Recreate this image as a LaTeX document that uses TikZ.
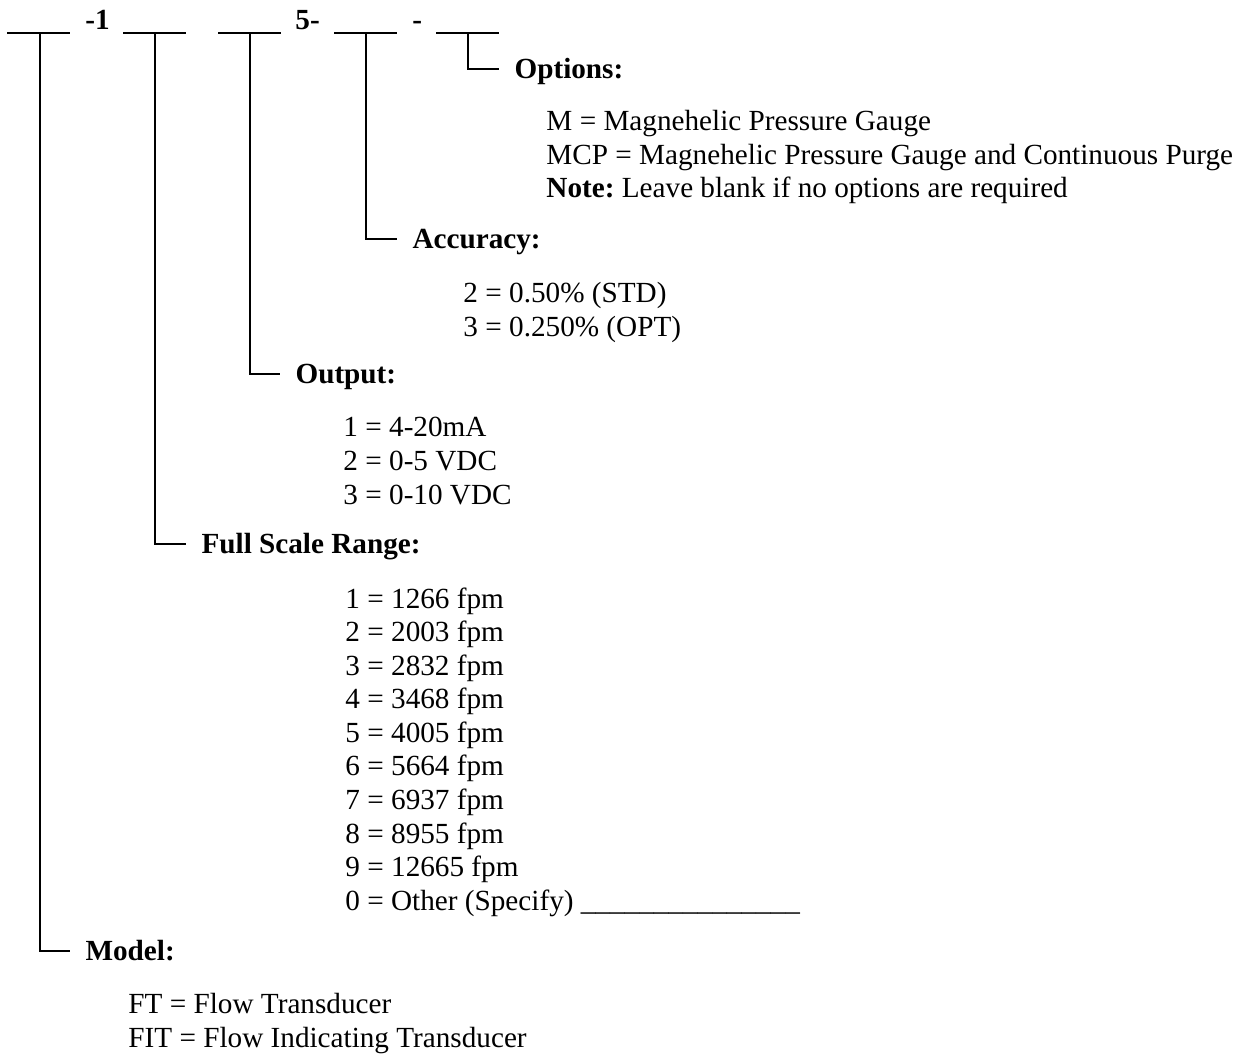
\documentclass[tikz,border=0pt]{standalone}
\usepackage{fontspec}
\setmainfont{Liberation Serif}
\usetikzlibrary{positioning,calc}
\frenchspacing
\tikzset{
    codeline/.style = {
        draw=black,
        line width=0.5pt
    },
    modelline/.style = {
        codeline,
        line width=0.85pt
    },
    codemark/.style = {
        anchor=west,
        font=\fontsize{12}{13.8}\selectfont\bfseries,
        inner sep=0pt,
        text height=8pt,
        text depth=0pt
    },
    fieldlabel/.style = {
        anchor=west,
        font=\fontsize{12}{13.8}\selectfont\bfseries,
        inner xsep=6.2pt,
        inner ysep=0pt,
        text height=8pt,
        text depth=0pt
    },
    itemlist/.style = {
        anchor=north west,
        align=left,
        inner sep=0pt,
        font=\fontsize{12}{13.8}\selectfont
    }
}
\begin{document}
\begin{tikzpicture}[x=0.411pt, y=-0.411pt]
    \useasboundingbox (0,0) rectangle (1253,1055);
    % blanks of the order code
    \foreach \name/\xc in {brange/155, boutput/250, baccuracy/366, boptions/468}{
        \coordinate (\name) at (\xc,33);
        \draw[codeline] (\xc-32,33) -- (\xc+31,33);
    }
    \coordinate (bmodel) at (40,33);
    \draw[modelline] (7,33) -- (70,33);
    \node[codemark] (mark1) at (85,20) {-1};
    \node[codemark] (mark5) at (295,20) {5-};
    \node[codemark] (markdash) at (412,20) {-};

    % fields
    \node[fieldlabel] (options) at (499,69) {Options:};
    \node[itemlist] (optionsitems) at (546,110) {M = Magnehelic Pressure Gauge\\
        MCP = Magnehelic Pressure Gauge and Continuous Purge\\
        \textbf{Note:} Leave blank if no options are required};
    \node[fieldlabel] (accuracy) at (397,239) {Accuracy:};
    \node[itemlist] (accuracyitems) at (463,282) {2 = 0.50\% (STD)\\3 = 0.250\% (OPT)};
    \node[fieldlabel] (output) at (280,374) {Output:};
    \node[itemlist] (outputitems) at (343,417) {1 = 4-20mA\\2 = 0-5 VDC\\3 = 0-10 VDC};
    \node[fieldlabel] (range) at (186,544) {Full Scale Range:};
    \node[itemlist] (rangeitems) at (345,587) {1 = 1266 fpm\\2 = 2003 fpm\\3 = 2832 fpm\\
        4 = 3468 fpm\\5 = 4005 fpm\\6 = 5664 fpm\\7 = 6937 fpm\\8 = 8955 fpm\\
        9 = 12665 fpm\\0 = Other (Specify) \_\_\_\_\_\_\_\_\_\_\_\_\_\_\_};
    \node[fieldlabel] (model) at (70,951) {Model:};
    \node[itemlist] (modelitems) at (128,993) {FT = Flow Transducer\\FIT = Flow Indicating Transducer};

    % connectors
    \draw[codeline] (boptions) |- (options.west);
    \draw[codeline] (baccuracy) |- (accuracy.west);
    \draw[codeline] (boutput) |- (output.west);
    \draw[codeline] (brange) |- (range.west);
    \draw[modelline] (bmodel) |- (model.west);
\end{tikzpicture}
\end{document}
